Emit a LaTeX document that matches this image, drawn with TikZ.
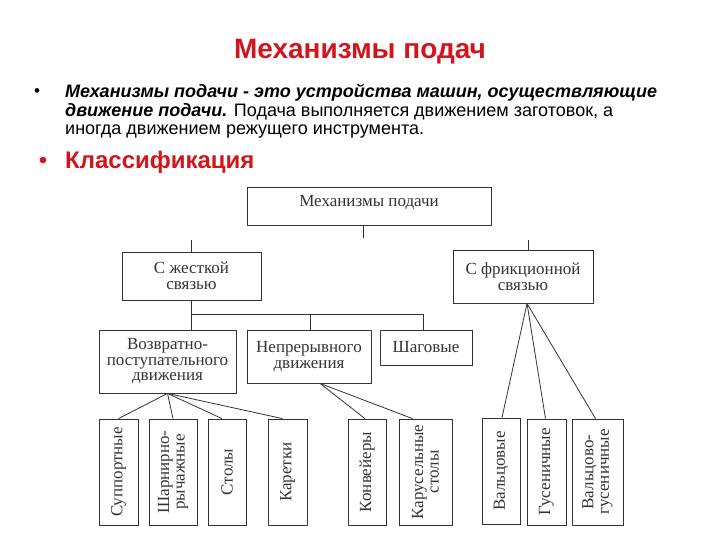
\documentclass[tikz,border=0pt]{standalone}
\usepackage{fontspec}
\setmainfont{Liberation Serif}
\setsansfont{Liberation Sans}
\definecolor{slRed}{HTML}{D4141C}
\definecolor{scanGrey}{HTML}{333333}
\tikzset{
  slidetitle/.style = {font=\sffamily\bfseries\fontsize{28}{30}\selectfont, slRed, anchor=base, inner sep=0pt},
  subtitle/.style   = {font=\sffamily\bfseries\fontsize{24}{26}\selectfont, slRed, anchor=base west, inner sep=0pt},
  bodytxt/.style    = {font=\sffamily\fontsize{18}{18.6}\selectfont, align=left, inner sep=0pt},
  dot/.style        = {font=\sffamily\fontsize{17}{18.5}\selectfont, anchor=base, inner sep=0pt},
  box/.style        = {draw=scanGrey, line width=0.8pt, text=scanGrey, align=center, inner sep=0pt,
                       font=\fontsize{17}{15.5}\selectfont},
  vbox/.style       = {box, rotate=90, minimum width=106},
  link/.style       = {scanGrey, line width=0.8pt},
}
\begin{document}
\begin{tikzpicture}[x=1pt,y=-1pt]
  \useasboundingbox (0,0) rectangle (720,540);
  % heading and text
  \node[slidetitle] (title) at (360,59) {Механизмы подач};
  \node[dot] (b1) at (37,97) {•};
  \node[bodytxt, anchor=north west] (def) at (65,84)
    {\textbf{\textit{Механизмы подачи - это устройства машин, осуществляющие}}\\
     \textbf{\textit{движение подачи.}} Подача выполняется движением заготовок, а\\
     иногда движением режущего инструмента.};
  \node[dot, slRed, font=\sffamily\fontsize{24}{26}\selectfont] (b2) at (43,169) {•};
  \node[subtitle] (cls) at (65,169) {Классификация};

  % upper levels
  \node[box, minimum width=244, minimum height=38, text height=17, text depth=15] (mech) at (369,206) {Механизмы подачи};
  \node[box, minimum width=139, minimum height=48] (rigid) at (191.5,276) {С жесткой\\связью};
  \node[box, minimum width=140, minimum height=53] (fric) at (523,276.5) {С фрикционной\\связью};
  \node[box, minimum width=137, minimum height=63] (recip) at (167.5,361.5) {Возвратно-\\поступательного\\движения};
  \node[box, minimum width=124, minimum height=53] (cont) at (309,356.5) {Непрерывного\\движения};
  \node[box, minimum width=92, minimum height=35] (shag) at (426,347.5) {Шаговые};

  % lower level, upright boxes
  \node[vbox, minimum height=39] (supp)   at (118.5,472) {Суппортные};
  \node[vbox, minimum height=48] (hinge)  at (173,472)   {Шарнирно-\\рычажные};
  \node[vbox, minimum height=38] (tables) at (227,472)   {Столы};
  \node[vbox, minimum height=39] (carr)   at (287.5,472) {Каретки};
  \node[vbox, minimum height=38] (conv)   at (367,472)   {Конвейеры};
  \node[vbox, minimum height=53] (carou)  at (425.5,472) {Карусельные\\столы};
  \node[vbox, minimum height=38] (roll)   at (501,471)   {Вальцовые};
  \node[vbox, minimum height=39] (track)  at (546.5,472) {Гусеничные};
  \node[vbox, minimum height=51] (rolltr) at (597.5,472) {Вальцово-\\гусеничные};

  % connectors
  \draw[link] ([xshift=-6pt]mech.south) -- ++(0,13);
  \draw[link] (rigid.north) -- ++(0,-12);
  \draw[link] ([xshift=5pt]fric.north) -- ++(0,-10);
  \draw[link] (rigid.south) -- ++(0,14) coordinate (junc);
  \draw[link] (junc) -- (junc |- recip.north);
  \draw[link] (junc) -| ([xshift=1pt]cont.north);
  \draw[link] (junc) -| ([xshift=-3pt]shag.north);
  \foreach \t/\s in {supp/0, hinge/0, tables/-5, carr/-5}
    \draw[link] (recip.south) -- ([xshift=\s pt]\t.east);
  \foreach \t/\s in {conv/-2, carou/-13}
    \draw[link] ([xshift=11pt]cont.south) -- ([xshift=\s pt]\t.east);
  \foreach \t/\s in {roll/1, track/-1, rolltr/-2}
    \draw[link] ([xshift=4pt]fric.south) -- ([xshift=\s pt]\t.east);
\end{tikzpicture}
\end{document}
